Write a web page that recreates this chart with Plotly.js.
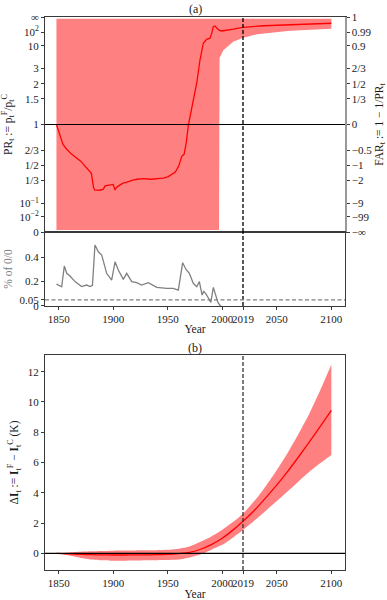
<!DOCTYPE html>
<html><head><meta charset="utf-8">
<script src="https://cdn.plot.ly/plotly-3.0.1.min.js"></script>
<style>html,body{margin:0;padding:0;background:#fff}</style>
</head><body><div id="chart" style="width:387px;height:600px"></div>
<script>
// ---------- data ----------
// Panel (a): probability ratio PR_t (central estimate)
const prYears = [1848,1854,1857,1862,1870,1879,1880,1882,1883,1888,1891,1892.5,1897,1900,1901.7,1903,1906,1909,1912,1915,1918,1922,1928,1934,1940,1946,1950.5,1954,1957,1960,1963,1965,1967,1969,1972,1976.6,1979.6,1981,1982.6,1985.7,1988.7,1990.3,1991.8,1993.3,1995,1998,2001,2010,2019,2038,2068,2100];
const prCentral = [1.0,0.735,0.684,0.619,0.546,0.418,0.41,0.259,0.233,0.23,0.241,0.276,0.284,0.292,0.233,0.259,0.284,0.305,0.313,0.327,0.338,0.347,0.354,0.347,0.354,0.358,0.376,0.40,0.425,0.489,0.60,0.619,0.756,1.0,1.26,2.04,4.16,5.9,12.8,21,25,67,1330,2450,500,157,157,303,890,3000,14000,74000];
// Panel (a): uncertainty band of PR_t (upper ~ infinity, lower ~ 0 before 1998)
const prBandYears = [1848,1997,1997.5,2001,2010,2019,2032,2062,2100];
const prBandLow  = [1e-15,1e-15,4.5,7.0,15,27,54,157,390];
const prBandHigh = [1e18,1e18,1e18,1e18,1e18,1e18,1e18,1e18,1e18];
// Panel (a) lower strip: share of 0/0 cases
const zzYears = [1848,1852.8,1855.2,1857.4,1860.4,1865,1871.1,1875.7,1878.8,1881,1883.3,1886.4,1889.5,1894,1898.6,1901.7,1904.7,1909.3,1912.4,1917,1921.6,1926.1,1932.2,1939.9,1949.1,1955.1,1959.7,1963.7,1966.8,1969.8,1973.4,1976.6,1979,1981.5,1983,1985,1987,1989.5,1991.8,1994,1996,1998,1999];
const zzPct   = [0.18,0.158,0.328,0.268,0.246,0.2,0.159,0.172,0.159,0.17,0.5,0.445,0.418,0.268,0.213,0.363,0.295,0.218,0.268,0.2,0.191,0.172,0.191,0.153,0.145,0.145,0.131,0.355,0.30,0.268,0.186,0.158,0.2,0.09,0.12,0.10,0.07,0.03,0.153,0.08,0.03,0.005,0];
// Panel (b): Delta I_t (K)
const diYears   = [1848,1860,1870,1880,1890,1900,1910,1920,1930,1940,1950,1960,1970,1980,1990,2000,2010,2019,2030,2040,2050,2060,2070,2080,2090,2100];
const diCentral = [0,-0.04,-0.07,-0.09,-0.1,-0.11,-0.11,-0.1,-0.1,-0.09,-0.07,-0.02,0.06,0.27,0.58,1.0,1.55,2.12,2.88,3.68,4.52,5.42,6.38,7.38,8.4,9.45];
const diHigh    = [0,0.06,0.1,0.13,0.15,0.17,0.18,0.19,0.2,0.21,0.23,0.31,0.46,0.77,1.12,1.56,2.08,2.62,3.5,4.45,5.5,6.65,7.9,9.25,10.8,12.47];
const diLow     = [0,-0.15,-0.3,-0.4,-0.46,-0.49,-0.49,-0.48,-0.46,-0.45,-0.44,-0.41,-0.27,-0.08,0.24,0.56,1.05,1.54,2.2,2.82,3.45,4.1,4.75,5.4,5.97,6.5];
// ticks / labels
const prTickVals  = [Infinity,100,10,3,2,1.5,1,2/3,1/2,1/3,0.1,0.01,0];
const prTickText  = ['∞','10<sup>2</sup>','10','3','2','1.5','1','2/3','1/2','1/3','10<sup>−1</sup>','10<sup>−2</sup>','0'];
const farTickText = ['1','0.99','0.9','2/3','1/2','1/3','0','−0.5','−1','−2','−9','−99','−∞'];
const zzTickVals  = [0,0.05,0.2,0.4];
const zzTickText  = ['0','0.05','0.2','0.4'];
const diTickVals  = [0,2,4,6,8,10,12];
const yearTicks   = [1850,1900,1950,2000,2019,2050,2100];
const refYear = 2019;
const zzThreshold = 0.05;

// ---------- scale for PR axis (symmetric, compresses 0 and infinity) ----------
const K = 2.24;
const T = p => (2/Math.PI)*Math.atan(K*Math.log10(p));

const RED = '#ff0000', BAND = '#ff8080', INK = '#1a1a1a', SPINE = '#3a3a3a';
const FONT = 'Liberation Serif, Times New Roman, serif';
const XR = [1837.5, 2112.5];
const NOLINE = {width:0, color:'rgba(0,0,0,0)'};

const traces = [
  {x: prBandYears, y: prBandLow.map(T), xaxis:'x', yaxis:'y', mode:'lines', line:NOLINE, hoverinfo:'skip'},
  {x: prBandYears, y: prBandHigh.map(T), xaxis:'x', yaxis:'y', mode:'lines', fill:'tonexty', fillcolor:BAND, line:NOLINE, hoverinfo:'skip'},
  {x: prYears, y: prCentral.map(T), xaxis:'x', yaxis:'y4', mode:'lines', line:{color:RED, width:1.3}},
  {x: zzYears, y: zzPct, xaxis:'x2', yaxis:'y2', mode:'lines', line:{color:'#808080', width:1.3}},
  {x: diYears, y: diLow, xaxis:'x3', yaxis:'y3', mode:'lines', line:{width:0, color:'rgba(0,0,0,0)', shape:'spline', smoothing:0.6}, hoverinfo:'skip'},
  {x: diYears, y: diHigh, xaxis:'x3', yaxis:'y3', mode:'lines', fill:'tonexty', fillcolor:BAND, line:{width:0, color:'rgba(0,0,0,0)', shape:'spline', smoothing:0.6}, hoverinfo:'skip'},
  {x: diYears, y: diCentral, xaxis:'x3', yaxis:'y3', mode:'lines', line:{color:RED, width:1.3, shape:'spline', smoothing:0.6}}
];

const TF = {family:FONT, size:11, color:INK};
const axCommon = {showgrid:false, zeroline:false, showline:true, linecolor:SPINE, linewidth:1, ticks:'outside', ticklen:3, tickwidth:1, tickcolor:SPINE, tickfont:TF, tickangle:0};
const xCommon = Object.assign({}, axCommon, {range:XR, tickvals:yearTicks, ticktext:yearTicks.map(String), mirror:true});
const titleFont = {family:FONT, size:11.5, color:INK};

const layout = {
  width:387, height:600,
  margin:{l:45, r:42, t:17, b:30},
  paper_bgcolor:'#fff', plot_bgcolor:'#fff',
  showlegend:false,
  font:{family:FONT, size:11, color:INK},
  xaxis: Object.assign({}, xCommon, {domain:[0,1], anchor:'y', showticklabels:false, ticks:''}),
  yaxis: Object.assign({}, axCommon, {domain:[0.6112,1], anchor:'x', range:[-1,1], tickvals:prTickVals.map(T), ticktext:prTickText,
         title:{text:'PR<sub>t</sub> := p<sub>t</sub><sup>F</sup>/p<sub>t</sub><sup>C</sup>', font:titleFont, standoff:4}}),
  yaxis4: Object.assign({}, axCommon, {overlaying:'y', side:'right', anchor:'x', range:[-1,1], tickvals:prTickVals.map(T), ticktext:farTickText, linecolor:'#999', linewidth:1.5,
         title:{text:'FAR<sub>t</sub> := 1 − 1/PR<sub>t</sub>', font:titleFont, standoff:4}}),
  xaxis2: Object.assign({}, xCommon, {domain:[0,1], anchor:'y2',
         title:{text:'Year', font:titleFont, standoff:0}}),
  yaxis2: Object.assign({}, axCommon, {domain:[0.4774,0.6112], anchor:'x2', range:[0,0.607], tickvals:zzTickVals, ticktext:zzTickText, mirror:true,
         title:{text:'% of 0/0', font:{family:FONT,size:11.5,color:'#808080'}, standoff:4}}),
  xaxis3: Object.assign({}, xCommon, {domain:[0,1], anchor:'y3',
         title:{text:'Year', font:titleFont, standoff:4}}),
  yaxis3: Object.assign({}, axCommon, {domain:[0,0.3888], anchor:'x3', range:[-1.1,13.1], tickvals:diTickVals, mirror:true,
         title:{text:'Δ<b>I</b><sub>t</sub> := <b>I</b><sub>t</sub><sup>F</sup> − <b>I</b><sub>t</sub><sup>C</sup> (K)', font:titleFont, standoff:6}}),
  annotations:[
    {text:'(a)', xref:'paper', yref:'paper', x:0.5, y:1.0145, xanchor:'center', yanchor:'middle', showarrow:false, font:{family:FONT,size:12,color:INK}},
    {text:'(b)', xref:'paper', yref:'paper', x:0.5, y:0.4014, xanchor:'center', yanchor:'middle', showarrow:false, font:{family:FONT,size:12,color:INK}}
  ],
  shapes:[
    {type:'line', xref:'x domain', yref:'y', x0:0, x1:1, y0:T(1), y1:T(1), line:{color:'#000', width:1.2}},
    {type:'line', xref:'x', yref:'y domain', x0:refYear, x1:refYear, y0:0, y1:1, line:{color:'#000', width:1.3, dash:'4px,2px'}},
    {type:'line', xref:'x2', yref:'y2 domain', x0:refYear, x1:refYear, y0:0, y1:1, line:{color:'#000', width:1.3, dash:'4px,2px'}},
    {type:'line', xref:'x2 domain', yref:'y2', x0:0, x1:1, y0:zzThreshold, y1:zzThreshold, line:{color:'#808080', width:1.2, dash:'4px,2.5px'}},
    {type:'line', xref:'x3 domain', yref:'y3', x0:0, x1:1, y0:0, y1:0, line:{color:'#000', width:1.2}},
    {type:'line', xref:'x3', yref:'y3 domain', x0:refYear, x1:refYear, y0:0, y1:1, line:{color:'#333', width:1.3, dash:'4px,2px'}}
  ]
};

Plotly.newPlot('chart', traces, layout, {staticPlot:true, displayModeBar:false});
</script>
</body></html>
